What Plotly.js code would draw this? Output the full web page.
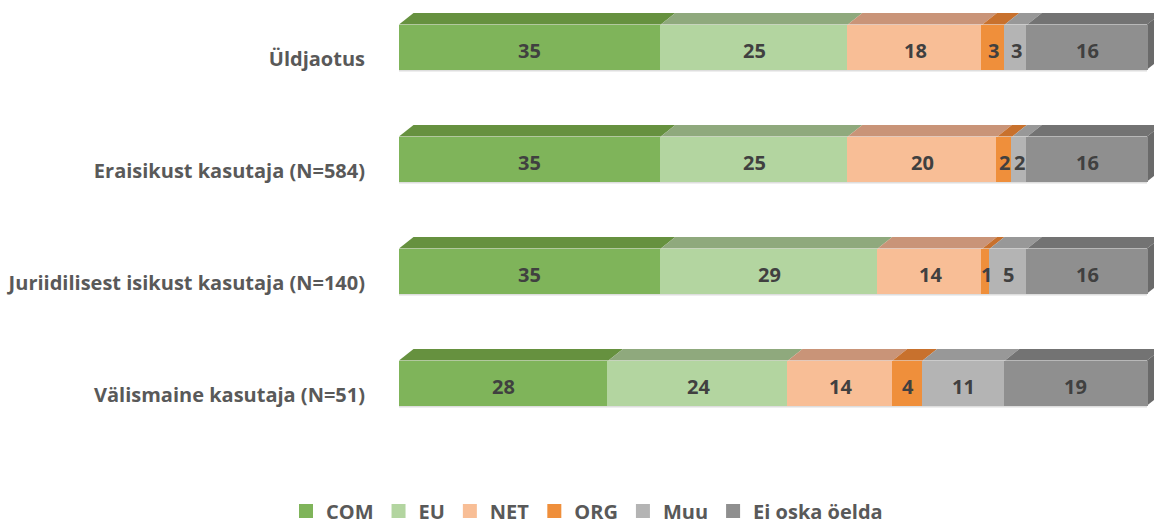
<!DOCTYPE html>
<html>
<head>
<meta charset="utf-8">
<script src="https://cdn.plot.ly/plotly-3.0.1.min.js"></script>
<style>
html,body{margin:0;padding:0;background:#fff;}
#chart{width:1154px;height:525px;}
</style>
</head>
<body>
<div id="chart"></div>
<script>
// ---- data ----
var categories = ["Üldjaotus", "Eraisikust kasutaja (N=584)", "Juriidilisest isikust kasutaja (N=140)", "Välismaine kasutaja (N=51)"];
var seriesNames = ["COM", "EU", "NET", "ORG", "Muu", "Ei oska öelda"];
var COM  = [35, 35, 35, 28];
var EU   = [25, 25, 29, 24];
var NET  = [18, 20, 14, 14];
var ORG  = [3, 2, 1, 4];
var MUU  = [3, 2, 5, 11];
var EI   = [16, 16, 16, 19];

// ---- style ----
var frontColors = ["#7fb45a", "#b3d5a0", "#f8be96", "#ef8f3b", "#b4b4b4", "#8f8f8f"];
var topColors   = ["#66913f", "#8fa97d", "#c99478", "#c8712d", "#989898", "#737373"];
var sideColor = "#6a6a6a";
var labelFont = "Open Sans, sans-serif";

var series = [COM, EU, NET, ORG, MUU, EI];
var n = categories.length;
// numeric row positions, top row highest
var rowPos = categories.map(function(c, i){ return n - 1 - i; });

var pxPerRow = 112;
var xMax = 100 * 755 / 748;
var frontHalf = 22.5 / pxPerRow;          // half height of the visible front face
var lineW = 2;                            // outline in the fill colour (gives 14px legend squares)
var barW = 2 * frontHalf - lineW / pxPerRow;
var dx = 14.5 / 7.48;   // depth offset in x units
var dy = 11.5 / pxPerRow;    // depth offset in y units

var traces = [];
var shapes = [];
var annotations = [];
var cum = categories.map(function(){ return 0; });

series.forEach(function(vals, si){
  traces.push({
    type: "bar",
    orientation: "h",
    name: seriesNames[si],
    x: vals,
    y: rowPos,
    width: barW,
    marker: {color: frontColors[si], line: {width: lineW, color: frontColors[si]}},
    hoverinfo: "name+x"
  });
  vals.forEach(function(v, ri){
    var s = cum[ri], e = s + v, y = rowPos[ri];
    var yt = y + frontHalf;
    shapes.push({
      type: "path", xref: "x", yref: "y", layer: "below",
      path: "M" + s + "," + yt + " L" + e + "," + yt + " L" + (e + dx) + "," + (yt + dy) + " L" + (s + dx) + "," + (yt + dy) + " Z",
      fillcolor: topColors[si], line: {width: 0}
    });
    annotations.push({
      x: s + v / 2, y: y, xref: "x", yref: "y",
      text: String(v), showarrow: false, yshift: -3,
      font: {family: labelFont, size: 20, color: "#404040", weight: "bold"}
    });
    cum[ri] = e;
  });
});

// right side faces and bottom edges
rowPos.forEach(function(y, ri){
  var e = cum[ri];
  var yt = y + frontHalf, yb = y - frontHalf;
  shapes.push({
    type: "path", xref: "x", yref: "y", layer: "below",
    path: "M" + e + "," + yt + " L" + (e + dx) + "," + (yt + dy) + " L" + (e + dx) + "," + (yb + dy) + " L" + e + "," + yb + " Z",
    fillcolor: sideColor, line: {width: 0}
  });
  shapes.push({
    type: "line", xref: "x", yref: "y", layer: "below",
    x0: 0, x1: e, y0: yb - 0.008, y1: yb - 0.008,
    line: {color: "#dedede", width: 2}
  });
});

var tickShift = 12 / pxPerRow;
var layout = {
  width: 1154, height: 525,
  margin: {l: 399, r: 0, t: 0, b: 75, pad: 0, autoexpand: false},
  paper_bgcolor: "#ffffff", plot_bgcolor: "rgba(0,0,0,0)",
  barmode: "stack",
  showlegend: true,
  xaxis: {range: [0, xMax], showgrid: false, zeroline: false, showticklabels: false, showline: false, fixedrange: true},
  yaxis: {
    range: [3 + 47 / pxPerRow - 450 / pxPerRow, 3 + 47 / pxPerRow],
    tickvals: rowPos.map(function(p){ return p - tickShift; }),
    ticktext: categories,
    showgrid: false, zeroline: false, showline: false, ticks: "",
    ticklabelstandoff: 33,
    tickfont: {family: labelFont, size: 20, color: "#595959", weight: "bold"},
    fixedrange: true
  },
  legend: {
    orientation: "h", x: (587 - 399) / 755, xanchor: "center",
    y: (450 - 511) / 450, yanchor: "middle",
    font: {family: labelFont, size: 20, color: "#595959", weight: "bold"},
    traceorder: "normal"
  },
  shapes: shapes,
  annotations: annotations
};

Plotly.newPlot("chart", traces, layout, {displayModeBar: false, staticPlot: true});
</script>
</body>
</html>
